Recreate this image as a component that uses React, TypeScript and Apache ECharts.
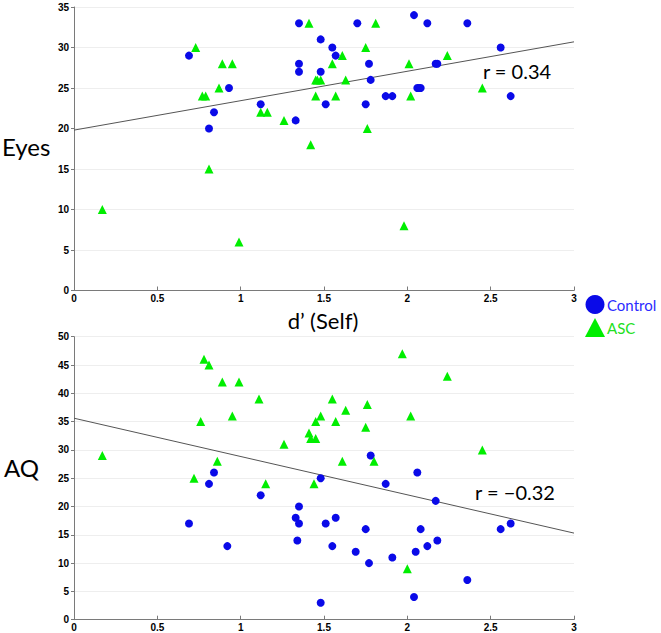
import React, { useEffect, useRef } from "react";
import * as echarts from "echarts";

// Eyes vs d' (Self)
const eyesControl: [number, number][] = [
  [0.69, 29], [0.93, 25], [0.84, 22], [0.81, 20], [1.12, 23], [1.33, 21], [1.35, 33], [1.48, 31],
  [1.35, 28], [1.35, 27], [1.48, 27], [1.51, 23], [2.04, 34], [1.70, 33], [2.12, 33], [2.36, 33],
  [1.55, 30], [1.57, 29], [2.56, 30], [1.77, 28], [2.17, 28], [2.18, 28], [1.78, 26], [2.06, 25],
  [2.07, 25], [2.08, 25], [1.87, 24], [1.91, 24], [2.62, 24], [1.75, 23],
];
const eyesASC: [number, number][] = [
  [0.73, 30], [0.89, 28], [0.95, 28], [0.87, 25], [0.77, 24], [0.79, 24], [1.12, 22], [1.16, 22],
  [1.26, 21], [1.41, 33], [1.45, 26], [1.46, 26], [1.48, 26], [1.45, 24], [1.42, 18], [1.81, 33],
  [1.75, 30], [1.61, 29], [1.55, 28], [2.01, 28], [2.24, 29], [1.63, 26], [2.45, 25], [1.57, 24],
  [2.02, 24], [1.76, 20], [0.17, 10], [0.81, 15], [0.99, 6], [1.98, 8],
];
const eyesFit: [number, number][] = [[0, 19.8], [3, 30.7]];
const eyesR = "r = 0.34";

// AQ vs d' (Self)
const aqControl: [number, number][] = [
  [0.84, 26], [0.81, 24], [1.48, 25], [1.12, 22], [1.35, 20], [1.33, 18], [1.35, 17], [1.51, 17],
  [0.69, 17], [1.34, 14], [0.92, 13], [1.48, 3], [1.87, 24], [2.17, 21], [1.57, 18], [1.75, 16],
  [2.08, 16], [2.56, 16], [2.62, 17], [1.55, 13], [1.69, 12], [2.05, 12], [2.12, 13], [2.18, 14],
  [1.77, 10], [1.91, 11], [2.36, 7], [2.04, 4], [1.78, 29], [2.06, 26],
];
const aqASC: [number, number][] = [
  [0.17, 29], [0.78, 46], [0.81, 45], [0.89, 42], [0.99, 42], [1.11, 39], [0.95, 36], [0.76, 35],
  [1.26, 31], [1.41, 33], [1.42, 32], [1.45, 32], [1.45, 35], [1.48, 36], [0.86, 28], [1.97, 47],
  [2.24, 43], [1.55, 39], [1.76, 38], [1.63, 37], [1.57, 35], [2.02, 36], [1.75, 34], [2.45, 30],
  [1.80, 28], [1.61, 28], [0.72, 25], [1.15, 24], [1.44, 24], [2.00, 9],
];
const aqFit: [number, number][] = [[0, 35.6], [3, 15.3]];
const aqR = "r = \u22120.32";

const xLabel = "d\u2019 (Self)";
const yLabels = ["Eyes", "AQ"];
const groupNames = ["Control", "ASC"];

const BLUE = "#0a0ae8";
const GREEN = "#00ee00";
const BIG_FONT = "Lato, 'Open Sans', sans-serif";
const TICK_FONT = "'Liberation Sans', Arial, sans-serif";

export default function App() {
  const ref = useRef<HTMLDivElement>(null);
  useEffect(() => {
    if (!ref.current) return;
    const chart = echarts.init(ref.current, null, { renderer: "svg" });
    const xAxisBase = {
      type: "value" as const,
      min: 0,
      max: 3,
      interval: 0.5,
      splitLine: { show: false },
      axisLine: { show: true, lineStyle: { color: "#7a7a7a", width: 1 } },
      axisTick: { show: true, inside: true, length: 4, lineStyle: { color: "#7a7a7a" } },
      axisLabel: { fontFamily: TICK_FONT, fontWeight: "bold", fontSize: 10, color: "#000", margin: 3 },
    };
    const yAxisBase = {
      type: "value" as const,
      min: 0,
      interval: 5,
      splitLine: { show: true, lineStyle: { color: "#eeeeee", width: 1 } },
      axisLine: { show: true, lineStyle: { color: "#7a7a7a", width: 1 } },
      axisTick: { show: true, inside: false, length: 3, lineStyle: { color: "#7a7a7a" } },
      axisLabel: { fontFamily: TICK_FONT, fontWeight: "bold", fontSize: 10, color: "#000", margin: 5 },
    };
    const scatter = (name: string, data: [number, number][], idx: number, symbol: string, color: string, size: number) => ({
      name,
      type: "scatter" as const,
      xAxisIndex: idx,
      yAxisIndex: idx,
      data,
      symbol,
      symbolSize: size,
      itemStyle: { color, opacity: 1 },
      z: 3,
    });
    const fit = (data: [number, number][], idx: number) => ({
      type: "line" as const,
      xAxisIndex: idx,
      yAxisIndex: idx,
      data,
      symbol: "none",
      lineStyle: { color: "#555", width: 1 },
      silent: true,
      z: 2,
    });
    chart.setOption({
      animation: false,
      grid: [
        { left: 74, right: 87, top: 7, height: 283.5 },
        { left: 74, right: 87, top: 336.7, height: 283 },
      ],
      xAxis: [
        { ...xAxisBase, gridIndex: 0 },
        { ...xAxisBase, gridIndex: 1 },
      ],
      yAxis: [
        { ...yAxisBase, gridIndex: 0, max: 35 },
        { ...yAxisBase, gridIndex: 1, max: 50 },
      ],
      legend: {
        orient: "vertical",
        left: 580,
        top: 290,
        itemWidth: 20,
        itemHeight: 19,
        itemGap: 4,
        data: [
          { name: groupNames[0], icon: "circle", textStyle: { color: "#2a2aff" } },
          { name: groupNames[1], icon: "triangle", textStyle: { color: "#22e022" } },
        ],
        textStyle: { fontFamily: BIG_FONT, fontSize: 15, padding: [0, 0, 0, -3] },
        selectedMode: false,
      },
      series: [
        fit(eyesFit, 0),
        scatter(groupNames[0], eyesControl, 0, "circle", BLUE, 8),
        scatter(groupNames[1], eyesASC, 0, "triangle", GREEN, 9),
        fit(aqFit, 1),
        scatter(groupNames[0], aqControl, 1, "circle", BLUE, 8),
        scatter(groupNames[1], aqASC, 1, "triangle", GREEN, 9),
      ],
      graphic: [
        { type: "text", left: 2, top: 134, style: { text: yLabels[0], font: `24px ${BIG_FONT}`, fill: "#000" } },
        { type: "text", left: 4, top: 455, style: { text: yLabels[1], font: `24px ${BIG_FONT}`, fill: "#000" } },
        { type: "text", x: 323, y: 320, style: { text: xLabel, font: `22px ${BIG_FONT}`, fill: "#000", align: "center", verticalAlign: "middle" } },
        { type: "text", x: 517, y: 71, style: { text: eyesR, font: `20px ${BIG_FONT}`, fill: "#000", align: "center", verticalAlign: "middle" } },
        { type: "text", x: 515, y: 492, style: { text: aqR, font: `20px ${BIG_FONT}`, fill: "#000", align: "center", verticalAlign: "middle" } },
      ],
    });
    return () => chart.dispose();
  }, []);
  return <div ref={ref} style={{ position: "fixed", left: 0, top: 0, width: 661, height: 633, background: "#fff" }} />;
}
